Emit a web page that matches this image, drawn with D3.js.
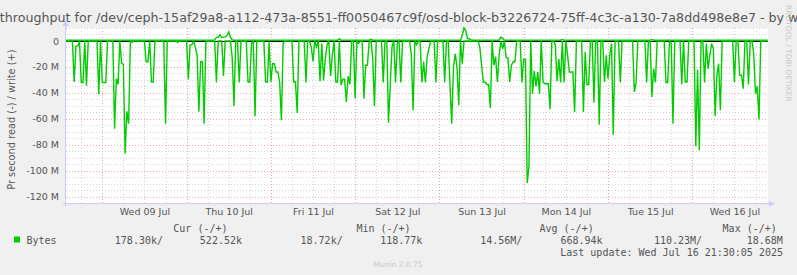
<!DOCTYPE html>
<meta charset="utf-8">
<style>
  body { margin: 0; background: #f0f0f0; }
  svg { display: block; }
  .lbl { font-family: "DejaVu Sans", sans-serif; fill: #555; }
  .mono { font-family: "DejaVu Sans Mono", monospace; font-size: 10px; fill: #555; }
  .grid-minor { stroke: #d4d4d4; stroke-dasharray: 1,2; }
  .grid-major { stroke: #eba8a8; stroke-dasharray: 1,2; }
</style>
<body>
<div id="chart"></div>
<script src="https://d3js.org/d3.v7.min.js"></script>
<script>
// read / write throughput in MB/s, one sample every 30 minutes from Jul 8 13:30
var readMB = [
  0,0,0,0,0,31.6,4,4,0,32, 32,0,34.5,0,0,0,0,0,0,41,
  0,32,32,32,0,0,0,0,67.6,29, 33.5,0,17,18,86.8,54.2,63.7,0,1,0,
  0,0,0,0,0,0,16,16,0,31.6, 31.6,0,0,0,0,0,0,63.7,0,0,
  0,0,0,0,1,0,0,0,0,0, 29.5,3,3,0,5,11,54.5,16,16,63.7,
  0,0,0,0,0,0,32,0,0,0, 27,0,0,0,0,13,50,0,0,32,
  0,0,0,0,31.6,31.6,2,0,58,0, 0,0,0,0,31.6,31.6,1,31.6,17.5,17.5,
  23.9,23.9,31.6,61,2,0,0,0,0,0, 31.6,31.6,55.5,0,0,0,0,32,0,0,
  4.6,15.7,0,4.6,0,31,2,30.5,13.9,3, 0,27,11,0,31.6,31.6,0,34,29.5,29.5,
  47,27,33.5,0,0,44.4,0,2,0,0, 44.4,18.7,18.7,0,0,13,50,0,0,0,
  0,32,0,0,63,33.5,4.6,0,32,2, 0,32,0,0,0,0,0,11,53.4,0,
  3,0,0,32,16,32,12,6,0,0, 0,32,0,0,0,0,32,0,0,34,
  63.7,20,10,20,49.6,0,17.5,0,0,0, 0,0,0,0,0,0,5,18.5,31.6,31.6,
  33.5,33.5,51.6,0,18.7,12,31.6,11,0,6, 0,13,13,31.6,18.7,16,16,0,0,0,
  32,14,14,109.4,96.3,0,40.6,23,35,24, 40.6,0,31.6,33,33,33,52.6,0,0,3,
  31,13.9,32,0,32,0,11,23.9,23.9,23.9, 54.7,0,0,0,0,54.7,8.5,33.5,33.5,0,
  0,47.5,0,0,64.5,0,0,31.6,11,29, 11,2,72.2,0,0,0,32,0,0,0,
  0,0,0,0,39.3,32,0,0,0,0, 0,32,0,0,43.2,21.3,32,0,0,0,
  0,0,32,32,0,2,63.7,0,0,0, 0,33.5,0,31.6,31.6,0,0,0,0,81.2,
  22,84.3,0,0,32,2,21.6,11,2,6, 57.8,26.5,17.5,53.4,0,0,0,0,0,0,
  0,32,0,0,26.5,26.5,36.7,0,0,33.5, 0,0,10,40.6,35,60.4,0,0,0,0,
  0
];
var writeMB = [
  .6,.6,.6,.6,.6,.6,.6,.6,.6,.6, .6,.6,.6,.6,.6,.6,.6,.6,.6,.6,
  .6,.6,.6,.6,.6,.6,.6,.6,.6,.6, .6,.6,.6,.6,.6,.6,.6,.6,.6,.6,
  .6,.6,.6,.6,.6,.6,.6,.6,.6,.6, .6,.6,.6,.6,.6,.6,.6,.6,.6,.6,
  .6,.6,.6,.6,.6,.6,.6,.6,.6,.6, .6,.6,.6,.6,.6,.6,.6,.6,.6,.6,
  .6,.6,.6,.6,.6,.8,2.8,2.8,4.9,2.5, 3,3.2,4,7,3,.8,.6,.6,.6,.6,
  .6,.6,.6,.6,.6,.6,.6,.6,.6,.6, .6,.6,.6,.6,.6,.6,.6,.6,.6,.6,
  .6,.6,.6,.6,.6,.6,.6,.6,.6,.6, .6,.6,.6,.6,.6,.6,.6,.6,.6,.6,
  .6,.6,.6,.6,.6,.6,.6,.6,.6,.6, .6,.6,.6,.6,.6,.6,1.8,.6,.6,.6,
  .6,.6,.6,.6,.6,.6,.6,.6,.6,.6, .6,.6,.6,.6,1.5,.6,.6,.6,.6,.6,
  .6,.6,.6,.6,.6,.6,.6,.6,.6,.6, .6,.6,.6,.6,.6,.6,.6,.6,.6,.6,
  .6,.6,.6,.6,.6,.6,.6,.6,.6,.6, .6,.6,.6,.6,.6,.6,.6,.6,.6,.6,
  .6,.6,.6,.6,.6,.6,4.4,10,8,2, 1.5,1,.6,.6,.6,.6,.6,.6,.6,.6,
  .6,.6,.6,.6,.6,.6,.6,.6,3,2, .6,.6,.6,.6,.6,.6,.6,.6,.6,.6,
  .6,.6,.6,.6,.6,.6,.6,.6,.6,.6, .6,.6,.6,.6,.6,.6,.6,.6,.6,.6,
  .6,.6,.6,1.2,.6,.6,.6,.6,.6,.6, .6,.6,.6,.6,.6,.6,.6,.6,.6,.6,
  .6,.6,.6,.6,.6,.6,.6,.6,.6,.6, .6,.6,.6,.6,.6,.6,.6,.6,.6,.6,
  .6,.6,.6,.6,.6,.6,.6,.6,.6,.6, .6,.6,.6,.6,1.2,.6,.6,.6,.6,.6,
  .6,.6,.6,.6,.6,.6,.6,.6,.6,.6, .6,.6,.6,.6,.6,.6,.6,.6,.6,.6,
  .6,.6,.6,.6,.6,.6,.6,.6,.6,.6, .6,.6,.6,.6,.6,.6,.6,.6,.6,.6,
  .6,.6,.6,.6,.6,.6,.6,.6,.6,.6, .6,.6,.6,.6,.6,.6,.6,.6,.6,.6,
  .6
];
var yTickValues = [0, -20, -40, -60, -80, -100, -120];
var yTickLabels = ["0", "-20 M", "-40 M", "-60 M", "-80 M", "-100 M", "-120 M"];
var dayLabels = ["Wed 09 Jul", "Thu 10 Jul", "Fri 11 Jul", "Sat 12 Jul", "Sun 13 Jul", "Mon 14 Jul", "Tue 15 Jul", "Wed 16 Jul"];
var legendHeads = ["Cur (-/+)", "Min (-/+)", "Avg (-/+)", "Max (-/+)"];
var readStats = ["178.30k", "18.72k", "14.56M", "110.23M"];
var writeStats = ["522.52k", "118.77k", "668.94k", "18.68M"];

var title = "Disk throughput for /dev/ceph-15af29a8-a112-473a-8551-ff0050467c9f/osd-block-b3226724-75ff-4c3c-a130-7a8dd498e8e7 - by week";
var firstSample = new Date(2025, 6, 8, 13, 30);
var step = 30 * 60 * 1000;

var W = 797, H = 275;
var plotL = 66, plotR = 767.8, plotT = 28, plotB = 203.2;

var svg = d3.select("#chart").append("svg").attr("width", W).attr("height", H);

var x = d3.scaleTime()
  .domain([new Date(2025, 6, 8, 13, 40), new Date(2025, 6, 16, 21, 30)])
  .range([plotL, plotR]);
var y = d3.scaleLinear().domain([-125, 10]).range([plotB, plotT]);

svg.append("rect").attr("x", plotL).attr("y", plotT)
  .attr("width", plotR - plotL).attr("height", plotB - plotT).attr("fill", "#fff");

// horizontal grid
var minorY = d3.range(-125, 10.01, 5).filter(function(v) { return v % 20 != 0; });
svg.append("g").selectAll("line").data(minorY).enter().append("line")
  .attr("class", "grid-minor")
  .attr("x1", plotL).attr("x2", plotR)
  .attr("y1", function(d) { return Math.round(y(d)) + 0.5; })
  .attr("y2", function(d) { return Math.round(y(d)) + 0.5; });
svg.append("g").selectAll("line").data(yTickValues).enter().append("line")
  .attr("class", "grid-major")
  .attr("x1", plotL).attr("x2", plotR)
  .attr("y1", function(d) { return Math.round(y(d)) + 0.5; })
  .attr("y2", function(d) { return Math.round(y(d)) + 0.5; });

// vertical grid
var sixHours = d3.timeHour.every(6).range(x.domain()[0], x.domain()[1])
  .filter(function(d) { return d.getHours() != 0; });
var midnights = d3.timeDay.range(x.domain()[0], x.domain()[1]);
svg.append("g").selectAll("line").data(sixHours).enter().append("line")
  .attr("class", "grid-minor")
  .attr("y1", plotT).attr("y2", plotB)
  .attr("x1", function(d) { return Math.round(x(d)) + 0.5; })
  .attr("x2", function(d) { return Math.round(x(d)) + 0.5; });
svg.append("g").selectAll("line").data(midnights).enter().append("line")
  .attr("class", "grid-major")
  .attr("y1", plotT).attr("y2", plotB)
  .attr("x1", function(d) { return Math.round(x(d)) + 0.5; })
  .attr("x2", function(d) { return Math.round(x(d)) + 0.5; });

// axes labels
var yAxis = svg.append("g").attr("transform", "translate(" + (plotL - 4) + ",0)")
  .call(d3.axisLeft(y).tickValues(yTickValues).tickSize(0)
    .tickFormat(function(d, i) { return yTickLabels[i]; }));
yAxis.select(".domain").remove();
yAxis.selectAll("text").attr("class", "lbl").style("font-size", "9.5px").attr("fill", "#555");

var noons = dayLabels.map(function(d, i) { return new Date(2025, 6, 9 + i, 12); });
var xAxis = svg.append("g").attr("transform", "translate(0," + (plotB + 2) + ")")
  .call(d3.axisBottom(x).tickValues(noons).tickSize(0)
    .tickFormat(function(d, i) { return dayLabels[i]; }));
xAxis.select(".domain").remove();
xAxis.selectAll("text").attr("class", "lbl").style("font-size", "9.5px").attr("fill", "#555");

// axis lines with arrows
var axisCol = "#c8ccf6";
svg.append("line").attr("x1", plotL - 0.5).attr("x2", plotL - 0.5).attr("y1", plotB + 3).attr("y2", 24)
  .attr("stroke", axisCol);
svg.append("path").attr("d", "M" + (plotL - 3.5) + ",26 L" + (plotL - 0.5) + ",20 L" + (plotL + 2.5) + ",26 Z")
  .attr("fill", axisCol);
svg.append("line").attr("x1", plotL - 3).attr("x2", plotR + 2).attr("y1", plotB + 0.5).attr("y2", plotB + 0.5)
  .attr("stroke", axisCol);
svg.append("path").attr("d", "M" + (plotR + 1) + "," + (plotB - 2.5) + " L" + (plotR + 7) + "," + (plotB + 0.5) + " L" + (plotR + 1) + "," + (plotB + 3.5) + " Z")
  .attr("fill", axisCol);

// data lines
svg.append("clipPath").attr("id", "plotclip").append("rect")
  .attr("x", plotL).attr("y", plotT - 4).attr("width", plotR - plotL).attr("height", plotB - plotT + 4);

var timeOf = function(i) { return new Date(+firstSample + i * step); };

svg.append("line").attr("x1", plotL).attr("x2", plotR)
  .attr("y1", y(0) + 0.5).attr("y2", y(0) + 0.5).attr("stroke", "#000");

var readLine = d3.line()
  .x(function(d, i) { return x(timeOf(i)); })
  .y(function(d) { return y(-d); });
var writeLine = d3.line()
  .x(function(d, i) { return x(timeOf(i)); })
  .y(function(d) { return y(d); });

svg.append("path").datum(readMB).attr("d", readLine)
  .attr("clip-path", "url(#plotclip)")
  .attr("fill", "none").attr("stroke", "#00cc00").attr("stroke-width", 1.4);
svg.append("path").datum(writeMB).attr("d", writeLine)
  .attr("clip-path", "url(#plotclip)")
  .attr("fill", "none").attr("stroke", "#00cc00").attr("stroke-width", 1.4);

// title and side texts
svg.append("text").attr("class", "lbl").attr("x", 395).attr("y", 22)
  .attr("text-anchor", "middle").style("font-size", "12.65px").text(title);
svg.append("text").attr("class", "lbl")
  .attr("transform", "translate(15," + ((plotT + plotB) / 2 + 4) + ") rotate(-90)")
  .attr("text-anchor", "middle").style("font-size", "9.8px")
  .text("Pr second read (-) / write (+)");
svg.append("text").attr("class", "lbl")
  .attr("transform", "translate(786,5) rotate(90)")
  .style("font-size", "7.5px").style("fill", "#c8c8c8")
  .text("RRDTOOL / TOBI OETIKER");

// legend
svg.append("rect").attr("x", 14).attr("y", 236.5).attr("width", 6).attr("height", 6).attr("fill", "#00cc00");
svg.append("text").attr("class", "mono").attr("x", 26.5).attr("y", 243.5).text("Bytes");
legendHeads.forEach(function(h, j) {
  svg.append("text").attr("class", "mono").attr("x", 173.3 + 183.1 * j).attr("y", 232).text(h);
  svg.append("text").attr("class", "mono").attr("x", 163 + 179.7 * j).attr("y", 243.5)
    .attr("text-anchor", "end").text(readStats[j] + "/");
  svg.append("text").attr("class", "mono").attr("x", 242 + 180.3 * j).attr("y", 243.5)
    .attr("text-anchor", "end").text(writeStats[j]);
});
svg.append("text").attr("class", "mono").attr("x", 783).attr("y", 255.5)
  .attr("text-anchor", "end").text("Last update: Wed Jul 16 21:30:05 2025");
svg.append("text").attr("class", "lbl").attr("x", 398).attr("y", 267)
  .attr("text-anchor", "middle").style("font-size", "7.5px").style("fill", "#c8c8c8")
  .text("Munin 2.0.75");
</script>
</body>
</html>
